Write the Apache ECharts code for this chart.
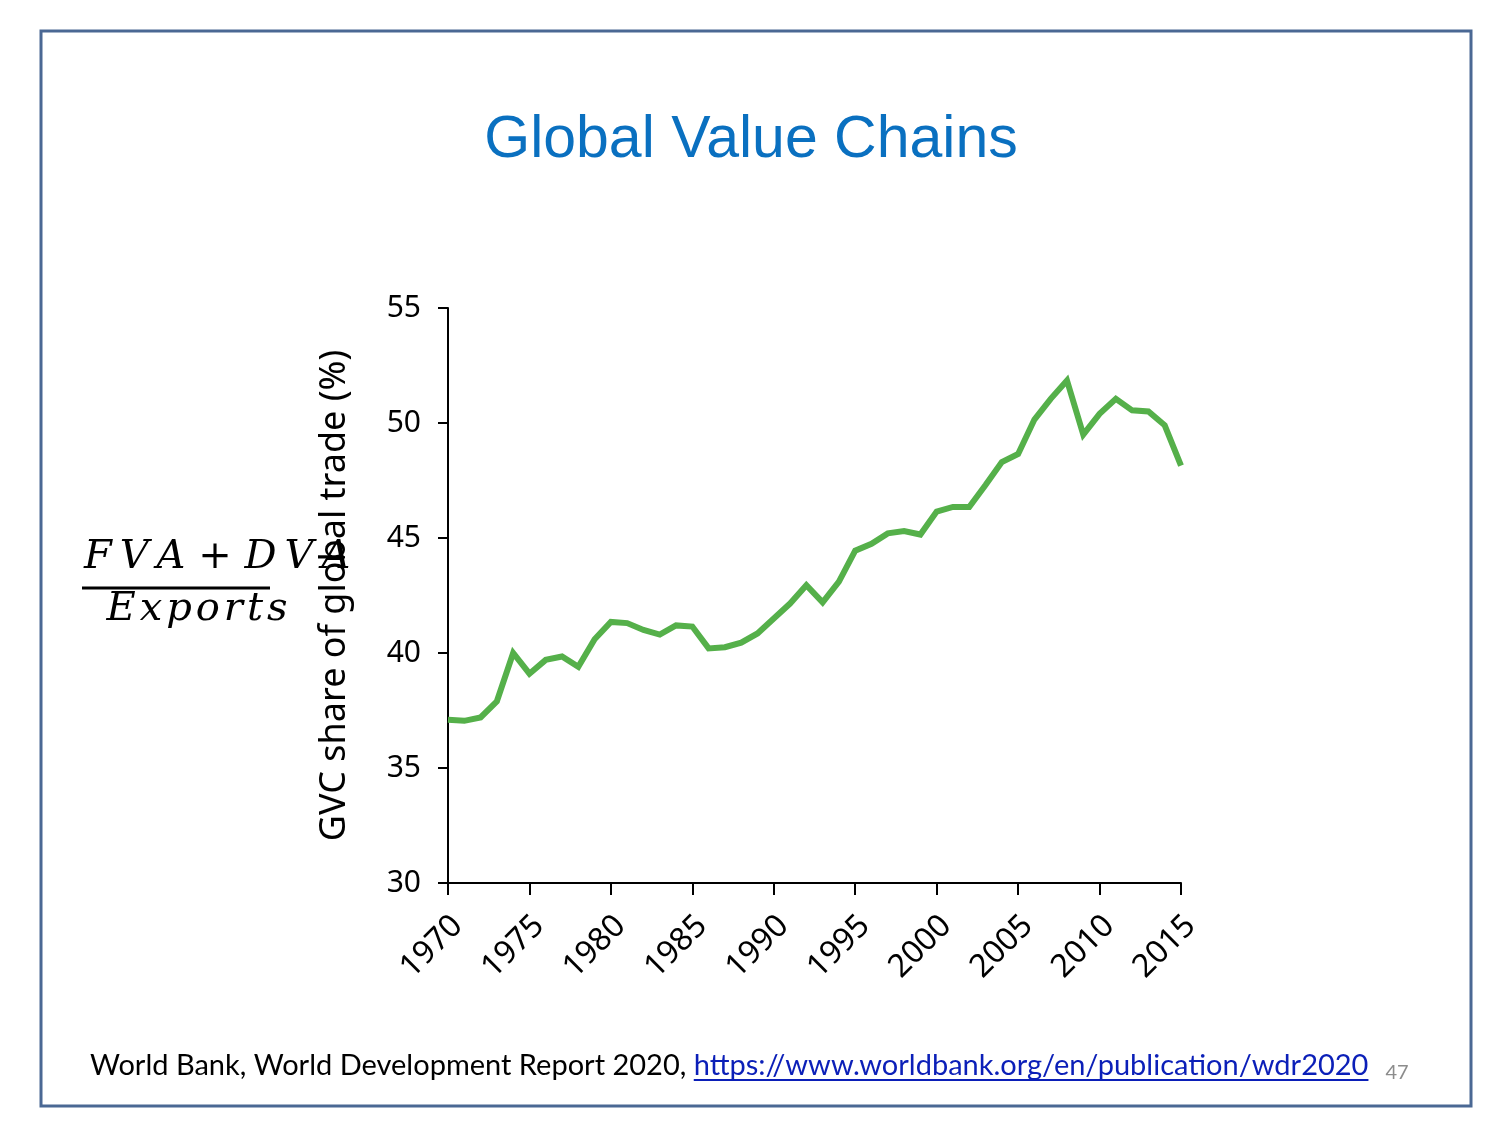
<!DOCTYPE html>
<html><head><meta charset="utf-8">
<script src="https://cdn.jsdelivr.net/npm/echarts@6/dist/echarts.min.js"></script>
<style>html,body{margin:0;padding:0;background:#fff}#c{width:1500px;height:1125px}</style>
</head><body><div id="c"></div>
<script>
var years = [1970,1971,1972,1973,1974,1975,1976,1977,1978,1979,1980,1981,1982,1983,1984,1985,1986,1987,1988,1989,1990,1991,1992,1993,1994,1995,1996,1997,1998,1999,2000,2001,2002,2003,2004,2005,2006,2007,2008,2009,2010,2011,2012,2013,2014,2015];
var gvcShare = [37.1,37.05,37.2,37.9,40.0,39.1,39.7,39.85,39.4,40.6,41.35,41.3,41.0,40.8,41.2,41.15,40.2,40.25,40.45,40.85,41.5,42.15,42.95,42.2,43.1,44.45,44.75,45.2,45.3,45.15,46.15,46.35,46.35,47.3,48.3,48.65,50.15,51.05,51.85,49.5,50.4,51.05,50.55,50.5,49.9,48.15];
var xTicks = {min:1970, max:2015, interval:5};
var yTicks = {min:30, max:55, interval:5};
var titleText = 'Global Value Chains';
var yAxisName = 'GVC share of global trade (%)';
var formulaTop = 'F\u2009V\u2009A + D\u2009V\u2009A';
var formulaBottom = 'E\u200Ax\u200Ap\u200Ao\u200Ar\u200At\u200As';
var footerText = 'World Bank, World Development Report 2020, ';
var linkText = 'https://www.worldbank.org/en/publication/wdr2020';
var pageNum = '47';

var chart = echarts.init(document.getElementById('c'), null, {renderer:'canvas', width:1500, height:1125});
var axisFont = '"Noto Sans", "DejaVu Sans", sans-serif';
var footFont = 'Lato, "Open Sans", sans-serif';
var footSize = 29;
var mc = document.createElement('canvas').getContext('2d');
mc.font = footSize + 'px Lato';
var plainW = mc.measureText(footerText).width;
var linkW = mc.measureText(linkText).width;
var footLeft = 90;
var linkLeft = footLeft + plainW;

var data = years.map(function(y,i){return [y, gvcShare[i]];});
chart.setOption({
  backgroundColor:'#ffffff',
  animation:false,
  grid:{left:448, top:308, width:733, height:575, containLabel:false},
  xAxis:{type:'value', min:xTicks.min, max:xTicks.max, interval:xTicks.interval,
    axisLine:{show:true, onZero:false, lineStyle:{color:'#000', width:2}},
    axisTick:{show:true, inside:false, length:12, lineStyle:{color:'#000', width:2}},
    splitLine:{show:false},
    axisLabel:{rotate:45, fontSize:32, color:'#000', fontFamily:axisFont, margin:80,
      align:'center', verticalAlign:'bottom', lineHeight:46,
      formatter:function(v){return String(v);}}
  },
  yAxis:{type:'value', min:yTicks.min, max:yTicks.max, interval:yTicks.interval,
    name:yAxisName, nameLocation:'middle', nameGap:95, nameRotate:90,
    nameTextStyle:{fontSize:36, color:'#000', fontFamily:axisFont},
    axisLine:{show:true, lineStyle:{color:'#000', width:2}},
    axisTick:{show:true, inside:false, length:10, lineStyle:{color:'#000', width:2}},
    splitLine:{show:false},
    axisLabel:{fontSize:30, color:'#000', fontFamily:axisFont, margin:27}
  },
  series:[{type:'line', data:data, showSymbol:false, symbol:'none',
    lineStyle:{color:'#55b04a', width:6, join:'miter'}, z:3}],
  graphic:[
    {type:'rect', shape:{x:41, y:31, width:1430, height:1075}, style:{fill:'none', stroke:'#4a6894', lineWidth:3}, z:-1},
    {type:'text', x:751, y:141, style:{text:titleText, fill:'#0a70c0', font:'59px "Liberation Sans", Arial, sans-serif', textAlign:'center', textVerticalAlign:'middle'}},
    {type:'text', x:84, y:558, style:{text:formulaTop, fill:'#000', font:'italic 40px "DejaVu Serif", serif', textAlign:'left', textVerticalAlign:'middle'}, z:10},
    {type:'line', shape:{x1:82, y1:588, x2:270, y2:588}, style:{stroke:'#000', lineWidth:3}},
    {type:'text', x:197, y:610, style:{text:formulaBottom, fill:'#000', font:'italic 40px "DejaVu Serif", serif', textAlign:'center', textVerticalAlign:'middle'}},
    {type:'text', x:footLeft, y:1066, style:{text:footerText, fill:'#000', font:footSize+'px '+footFont, textAlign:'left', textVerticalAlign:'middle'}},
    {type:'text', x:linkLeft, y:1066, style:{text:linkText, fill:'#0b1fb8', font:footSize+'px '+footFont, textAlign:'left', textVerticalAlign:'middle'}},
    {type:'line', shape:{x1:linkLeft, y1:1080, x2:linkLeft+linkW, y2:1080}, style:{stroke:'#0b1fb8', lineWidth:2}},
    {type:'text', x:1397, y:1073, style:{text:pageNum, fill:'#8c8c8c', font:'20px '+footFont, textAlign:'center', textVerticalAlign:'middle'}}
  ]
});
</script></body></html>
